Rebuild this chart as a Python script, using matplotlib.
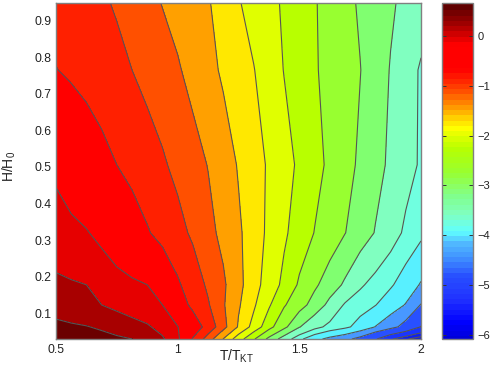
import numpy as np
import matplotlib
matplotlib.use("Agg")
import matplotlib.pyplot as plt
from matplotlib.colors import LinearSegmentedColormap, Normalize
from matplotlib.cm import ScalarMappable

plt.rcParams['font.family'] = ['Liberation Sans', 'DejaVu Sans']
plt.rcParams['mathtext.fontset'] = 'custom'
plt.rcParams['mathtext.rm'] = 'Liberation Sans'
plt.rcParams['mathtext.it'] = 'Liberation Sans'
plt.rcParams['mathtext.default'] = 'regular'

T_values = [0.5, 0.5625, 0.625, 0.6875, 0.75, 0.8125, 0.875, 0.9375, 1.0, 1.0625, 1.125, 1.1875, 1.25,
            1.3125, 1.375, 1.4375, 1.5, 1.5625, 1.625, 1.6875, 1.75, 1.8125, 1.875, 1.9375, 2.0]
H_values = [0.948, 0.765, 0.506, 0.320, 0.178, 0.123, 0.063, 0.030]

row_h0948 = [-0.75,-0.80,-0.86,-0.91,-0.98,-1.07,-1.17,-1.26,-1.35,-1.44,-1.53,-1.65,-1.78,-1.90,-2.01,-2.14,-2.28,-2.42,-2.59,-2.78,-2.95,-3.10,-3.25,-3.39,-3.52]
row_h0765 = [-0.59,-0.66,-0.73,-0.80,-0.87,-0.95,-1.04,-1.13,-1.22,-1.34,-1.47,-1.59,-1.69,-1.79,-1.94,-2.11,-2.26,-2.41,-2.57,-2.73,-2.89,-3.11,-3.32,-3.54,-3.74]
row_h0506 = [-0.11,-0.23,-0.35,-0.48,-0.60,-0.70,-0.81,-0.91,-1.03,-1.14,-1.26,-1.42,-1.57,-1.70,-1.83,-1.99,-2.15,-2.33,-2.52,-2.75,-2.97,-3.17,-3.37,-3.58,-3.74]
row_h0320 = [0.07,0.02,-0.03,-0.13,-0.28,-0.43,-0.57,-0.71,-0.85,-1.00,-1.16,-1.33,-1.51,-1.68,-1.85,-2.05,-2.25,-2.46,-2.67,-2.89,-3.10,-3.32,-3.55,-3.76,-3.93]
row_h0178 = [0.24,0.22,0.20,0.14,0.07,0.01,-0.05,-0.30,-0.55,-0.78,-1.00,-1.20,-1.48,-1.70,-1.92,-2.18,-2.50,-2.83,-3.10,-3.36,-3.65,-3.82,-3.96,-4.16,-4.38]
row_h0123 = [0.36,0.31,0.26,0.20,0.14,0.08,0.02,-0.05,-0.39,-0.69,-0.92,-1.22,-1.52,-1.76,-2.06,-2.41,-2.74,-3.06,-3.41,-3.74,-3.87,-3.99,-4.18,-4.37,-4.72]
row_h0063 = [0.50,0.48,0.46,0.42,0.35,0.29,0.23,0.12,-0.04,-0.37,-0.74,-1.15,-1.58,-1.89,-2.30,-2.80,-3.28,-3.59,-3.79,-3.93,-4.12,-4.36,-4.57,-4.84,-5.22]
row_h0030 = [0.62,0.59,0.55,0.52,0.49,0.45,0.35,0.23,0.03,-0.63,-1.10,-1.56,-1.94,-2.40,-3.01,-3.49,-3.92,-4.24,-4.45,-4.60,-4.82,-5.16,-5.56,-5.82,-6.00]

levels = [-6.2,-5.85,-5.6,-5.2,-4.7,-4.35,-4.0,-3.7,-3.3,-2.9,-2.45,-2.1,-1.8,-1.55,-1.25,-0.95,-0.6,-0.05,0.2,0.45,0.8]
band_colors = ['#1010dd','#1020ee','#1a34ff','#2850ff','#4898ff','#58f0ff','#70ffe0','#80ffc0','#80ff70','#98ff30',
               '#b8ff00','#e0ff00','#ffe800','#ffa000','#ff5000','#ff2000','#ff0000','#e60000','#a80000','#6b0000']

cbar_min, cbar_max = -6.08, 0.66
cbar_stops = [-6.08,-5.75,-5.3,-4.8,-4.45,-4.15,-3.9,-3.55,-3.2,-2.7,-2.2,-1.95,-1.8,-1.65,-1.4,-1.05,-0.8,-0.6,-0.1,0.05,0.33,0.66]
cbar_colors = ['#0000d8','#0000ff','#2030ff','#2850ff','#4090ff','#50b8ff','#60ffff','#80ffc0','#80ff90','#98ff30',
               '#b8ff00','#e0ff00','#ffff00','#ffe000','#ffa000','#ff5000','#ff2000','#ff0000','#ff0000','#e00000','#a00000','#600000']

W, H = 491, 373
fig = plt.figure(figsize=(W/100, H/100), dpi=100)
frame = '#808080'
fs = 8.8

def box(x0, x1, y0, y1):
    return [x0/W, 1-y1/H, (x1-x0)/W, (y1-y0)/H]

ax = fig.add_axes(box(56, 421, 3, 339))
Z = np.array([row_h0948,row_h0765,row_h0506,row_h0320,row_h0178,row_h0123,row_h0063,row_h0030])
X = np.array(T_values)
Y = np.array(H_values)
ax.contourf(X, Y, Z, levels=levels, colors=band_colors)
ax.contour(X, Y, Z, levels=levels[1:-1], colors='#555555', linewidths=0.8, linestyles='solid')
ax.set_xlim(0.5, 2)
ax.set_ylim(0.03, 0.948)
ax.set_xticks([0.5, 1, 1.5, 2])
ax.set_xticklabels(['0.5', '1', '1.5', '2'], fontsize=fs)
ax.set_yticks([0.1,0.2,0.3,0.4,0.5,0.6,0.7,0.8,0.9])
ax.tick_params(axis='both', length=0, labelsize=fs, pad=3.5, colors='#222222')
for s in ax.spines.values():
    s.set_color(frame)
    s.set_linewidth(1.0)
fig.text(237/W, 1-356/H, r'T/T$_{KT}$', ha='center', va='center', fontsize=10, color='#222222')
fig.text(9/W, 1-166/H, r'H/H$_{0}$', ha='center', va='center', rotation=90, fontsize=10, color='#222222')

cax = fig.add_axes(box(442, 473, 3, 339))
norm = Normalize(cbar_min, cbar_max)
positions = [(v-cbar_min)/(cbar_max-cbar_min) for v in cbar_stops]
cmap = LinearSegmentedColormap.from_list('bands', list(zip(positions, cbar_colors)), N=64)
cb = fig.colorbar(ScalarMappable(norm=norm, cmap=cmap), cax=cax)
cb.set_ticks([0,-1,-2,-3,-4,-5,-6])
cb.set_ticklabels(['0','\u22121','\u22122','\u22123','\u22124','\u22125','\u22126'])
cax.tick_params(axis='y', direction='in', left=True, right=True, length=3, width=0.7, color='#333333',
                labelsize=fs-0.8, pad=3, labelcolor='#222222')
cb.outline.set_edgecolor(frame)
cb.outline.set_linewidth(1.0)
cb.solids.set_edgecolor('face')

fig.savefig('out.png', dpi=100)
